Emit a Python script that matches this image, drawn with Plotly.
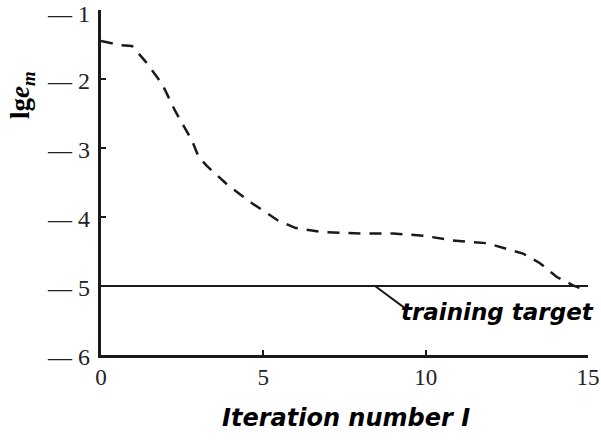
import plotly.graph_objects as go

# Data
iteration = [0, 0.6, 0.95, 1.36, 1.88, 2.28, 2.8, 3.0, 3.26, 3.91, 4.65, 5.45, 6.0,
             6.84, 8.07, 9.0, 9.92, 10.84, 11.89, 12.69, 13.0, 13.52, 14.04, 14.54, 14.75]
lg_em = [-1.45, -1.51, -1.52, -1.74, -2.07, -2.46, -2.89, -3.12, -3.26, -3.54, -3.80, -4.05, -4.16,
         -4.22, -4.24, -4.24, -4.27, -4.34, -4.38, -4.48, -4.53, -4.67, -4.87, -4.99, -5.03]
target_x = [0, 15]
target_y = [-5, -5]

x_tickvals = [0, 5, 10, 15]
x_ticktext = ["0", "5", "10", "15"]
y_tickvals = [-1, -2, -3, -4, -5, -6]
y_ticktext = ["— 1", "— 2", "— 3", "— 4", "— 5", "— 6"]

fig = go.Figure()
fig.add_trace(go.Scatter(x=iteration, y=lg_em, mode="lines",
                         line=dict(color="#1a1a1a", width=2.5, dash="12px,9px"),
                         showlegend=False, hoverinfo="skip"))
fig.add_trace(go.Scatter(x=target_x, y=target_y, mode="lines",
                         line=dict(color="#1a1a1a", width=2),
                         showlegend=False, hoverinfo="skip"))

fig.add_shape(type="line", xref="x", yref="y", x0=8.44, y0=-5, x1=9.36, y1=-5.32,
              line=dict(color="#1a1a1a", width=2))
fig.add_annotation(x=12.2, y=-5.37, xref="x", yref="y", text="<b><i>training target</i></b>",
                   showarrow=False, font=dict(family="DejaVu Sans", size=23, color="black"))

# y tick labels (slightly below their ticks, as in the reference)
for v, t in zip(y_tickvals, y_ticktext):
    fig.add_annotation(x=0, y=v, xref="paper", yref="y", text=t, showarrow=False,
                       xanchor="right", yanchor="middle", xshift=-9, yshift=-4 if v == -1 else -2,
                       font=dict(family="Liberation Serif", size=24, color="#222"))

fig.add_annotation(x=-0.162, y=0.754, xref="paper", yref="paper", textangle=-90,
                   xanchor="center", yanchor="middle",
                   text="<b>lg<i>e</i><sub><i>m</i></sub></b>", showarrow=False,
                   font=dict(family="Liberation Serif", size=27, color="black"))

fig.add_annotation(x=0.503, y=-0.183, xref="paper", yref="paper",
                   xanchor="center", yanchor="middle",
                   text="<b><i>Iteration number I</i></b>", showarrow=False,
                   font=dict(family="DejaVu Sans", size=24, color="black"))

fig.update_layout(
    width=601, height=440,
    margin=dict(l=101, r=13, t=10, b=85, autoexpand=False),
    paper_bgcolor="white", plot_bgcolor="white",
    xaxis=dict(range=[0, 15], tickvals=x_tickvals, ticktext=x_ticktext,
               ticks="inside", ticklen=5, tickwidth=2, tickcolor="#1a1a1a",
               showline=True, linecolor="#1a1a1a", linewidth=2.5, showgrid=False, zeroline=False,
               ticklabeloverflow="allow", automargin=False,
               tickfont=dict(family="Liberation Serif", size=23, color="#222")),
    yaxis=dict(range=[-6, -1], tickvals=y_tickvals, showticklabels=False,
               ticks="inside", ticklen=5, tickwidth=2, tickcolor="#1a1a1a",
               showline=True, linecolor="#1a1a1a", linewidth=2.5, showgrid=False, zeroline=False,
               automargin=False),
)

fig.write_html("out.html", config={"displayModeBar": False},
               post_script="document.body.style.margin='0';document.body.style.overflow='hidden';")
